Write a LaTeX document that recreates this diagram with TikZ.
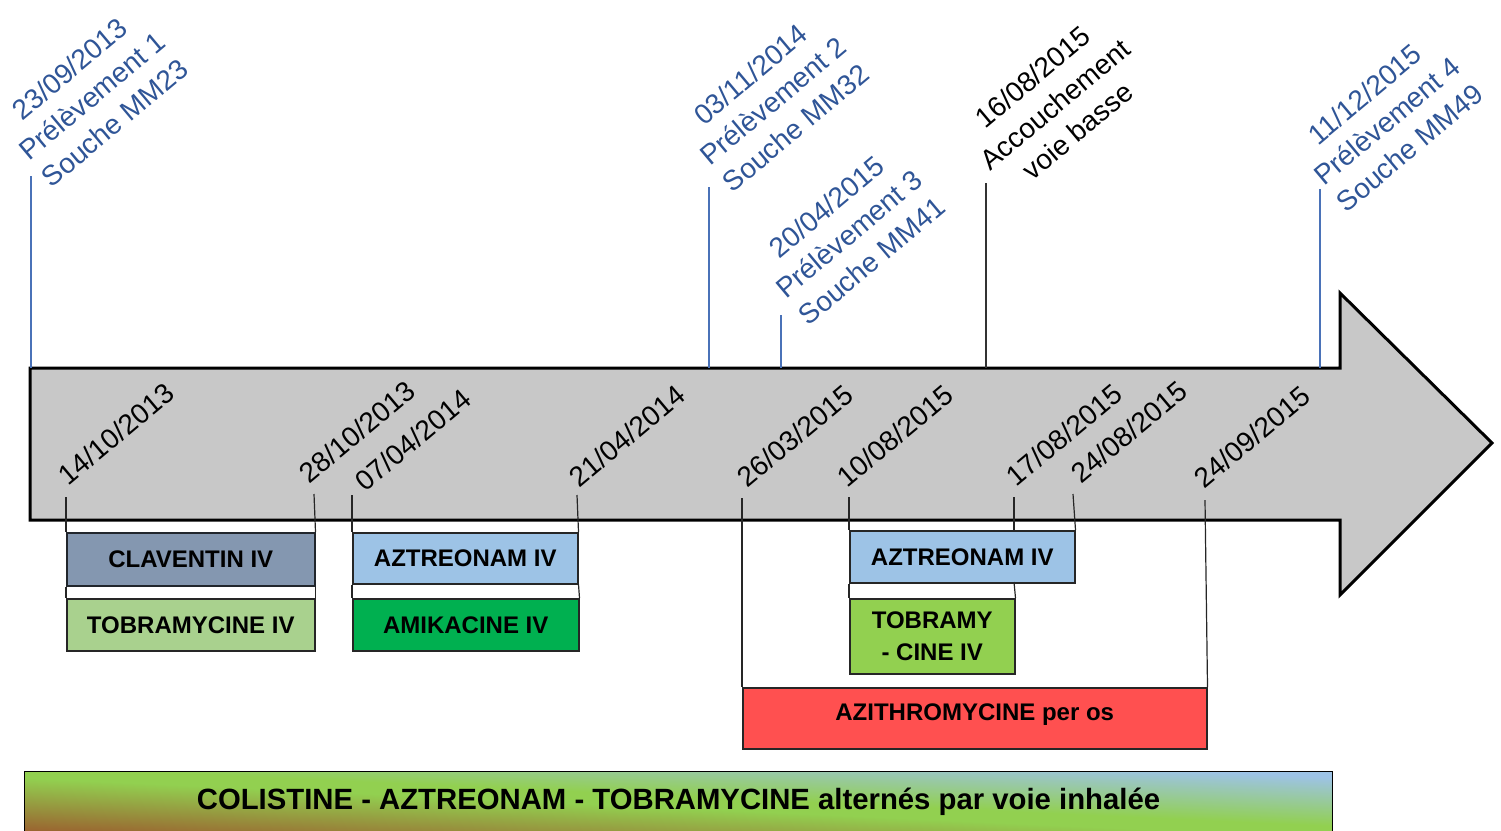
\documentclass[tikz,border=0pt]{standalone}
\usepackage{fontspec}
\setmainfont{Liberation Sans}
\definecolor{blueT}{HTML}{2F5597}
\definecolor{blueL}{HTML}{4A72B8}
\definecolor{arrowgray}{HTML}{C8C8C8}
\definecolor{clav}{HTML}{8497B0}
\definecolor{tobA}{HTML}{A9D18E}
\definecolor{aztr}{HTML}{9DC3E6}
\definecolor{amik}{HTML}{00B050}
\definecolor{tobB}{HTML}{92D050}
\definecolor{azit}{HTML}{FF5050}
\definecolor{brownc}{HTML}{9A6530}
\definecolor{greenc}{HTML}{92D050}
\definecolor{bluec}{HTML}{9DC3E6}
\pgfdeclarehorizontalshading{colgrad}{100bp}{color(0bp)=(brownc); color(15bp)=(brownc); color(46bp)=(greenc); color(53bp)=(greenc); color(82bp)=(bluec); color(100bp)=(bluec)}
\begin{document}
\begin{tikzpicture}[x=1pt,y=-1pt,
  datelbl/.style={rotate=40,anchor=center,inner sep=0pt,font=\fontsize{28}{34}\selectfont},
  evlbl/.style={rotate=40,align=center,inner sep=0pt,font=\fontsize{28}{35}\selectfont},
  tickline/.style={line width=1.2pt,draw=black!85},
  evline/.style={line width=1.2pt,draw=blueL},
  box/.style={draw=black!85,line width=1.5pt,anchor=north west,inner sep=0pt,
     font=\bfseries\fontsize{24}{32}\selectfont,align=center,text=black}
]
\useasboundingbox (0,0) rectangle (1501,830);

% main arrow
\draw[line width=3pt,fill=arrowgray,line join=miter]
  (30,368) -- (1340,368) -- (1340,293) -- (1492,443) -- (1340,595) -- (1340,520) -- (30,520) -- cycle;

% treatment boxes
\node[box,fill=clav,draw=black!75!clav,minimum width=248,minimum height=53] (clav) at (66,532) {CLAVENTIN IV};
\node[box,fill=tobA,minimum width=248,minimum height=52] (tobA) at (66,598) {TOBRAMYCINE IV};
\node[box,fill=aztr,minimum width=225,minimum height=51] (aztA) at (352,532) {AZTREONAM IV};
\node[box,fill=amik,minimum width=226,minimum height=52] (amik) at (352,598) {AMIKACINE IV};
\node[box,fill=aztr,minimum width=225,minimum height=52] (aztB) at (849,530) {AZTREONAM IV};
\node[box,fill=tobB,minimum width=165,minimum height=75] (tobB) at (849,598) {TOBRAMY\\- CINE IV};
\node[box,fill=azit,minimum width=464,minimum height=61,inner ysep=7pt,text height=26pt,text depth=21pt] (azit) at (742,687) {AZITHROMYCINE per os};

% bottom bar: gradient relative to the bar's own box
\begin{scope}[transform canvas={xscale=13.08,yscale=0.6}]
  \shade[shading=colgrad,shading angle=45] (1.8349,1285) rectangle (101.8349,1385);
\end{scope}
\node[draw=black,line width=1pt,anchor=north west,
  minimum width=1308,minimum height=60,inner sep=0pt,text height=21pt,text depth=6pt,
  font=\bfseries\fontsize{29.3}{34}\selectfont] (inh) at (24,771)
  {COLISTINE - AZTREONAM - TOBRAMYCINE alternés par voie inhalée};

% dates inside arrow
\node[datelbl] (d1) at (116,434) {14/10/2013};
\node[datelbl] (d2) at (357,432) {28/10/2013};
\node[datelbl] (d3) at (413,440) {07/04/2014};
\node[datelbl] (d4) at (627,436) {21/04/2014};
\node[datelbl] (d5) at (795,436) {26/03/2015};
\node[datelbl] (d6) at (895,436) {10/08/2015};
\node[datelbl] (d7) at (1064,435) {17/08/2015};
\node[datelbl] (d8) at (1129,432) {24/08/2015};
\node[datelbl] (d9) at (1252,437) {24/09/2015};

\coordinate (k1) at (66,497);
\coordinate (k2) at (314,494);
\coordinate (k3) at (352,495);
\coordinate (k4) at (577,495);
\coordinate (k5) at (742,498);
\coordinate (k6) at (849,497);
\coordinate (k7) at (1014,497);
\coordinate (k8) at (1073,494);
\coordinate (k9) at (1205,500);

\draw[tickline] (k1) -- (clav.north west);
\draw[tickline] (clav.south west) -- (tobA.north west);
\draw[tickline] (k2) -- (clav.north east);
\draw[tickline] (clav.south east) -- (tobA.north east);
\draw[tickline] (k3) -- (aztA.north west);
\draw[tickline] (aztA.south west) -- (amik.north west);
\draw[tickline] (k4) -- (aztA.north east);
\draw[tickline] (aztA.south east) -- (amik.north east);
\draw[tickline] (k5) -- (azit.north west);
\draw[tickline] (k9) -- (azit.north east);
\draw[tickline] (k6) -- (aztB.north west);
\draw[tickline] (aztB.south west) -- (tobB.north west);
\draw[tickline] (k7) -- (1014,530);
\draw[tickline] (1014,582) -- (tobB.north east);
\draw[tickline] (k8) -- (aztB.north east);

% event labels above arrow
\node[evlbl,text=blueT] (e1) at (92,96) {23/09/2013\\Prélèvement 1\\Souche MM23};
\node[evlbl,text=blueT] (e2) at (773,101) {03/11/2014\\Prélèvement 2\\Souche MM32};
\node[evlbl,text=blueT] (e3) at (849,234) {20/04/2015\\Prélèvement 3\\Souche MM41};
\node[evlbl,text=black] (e4) at (1055,104) {16/08/2015\\Accouchement\\voie basse};
\node[evlbl,text=blueT] (e5) at (1387,121) {11/12/2015\\Prélèvement 4\\Souche MM49};

\coordinate (p1) at (31,176);
\coordinate (q1) at (31,368);
\coordinate (p2) at (709,187);
\coordinate (q2) at (709,368);
\coordinate (p3) at (781,315);
\coordinate (q3) at (781,368);
\coordinate (p4) at (986,183);
\coordinate (q4) at (986,368);
\coordinate (p5) at (1320,189);
\coordinate (q5) at (1320,368);
\draw[evline] (p1) -- (q1);
\draw[evline] (p2) -- (q2);
\draw[evline] (p3) -- (q3);
\draw[line width=1.2pt,draw=black!80] (p4) -- (q4);
\draw[evline] (p5) -- (q5);
\end{tikzpicture}
\end{document}
